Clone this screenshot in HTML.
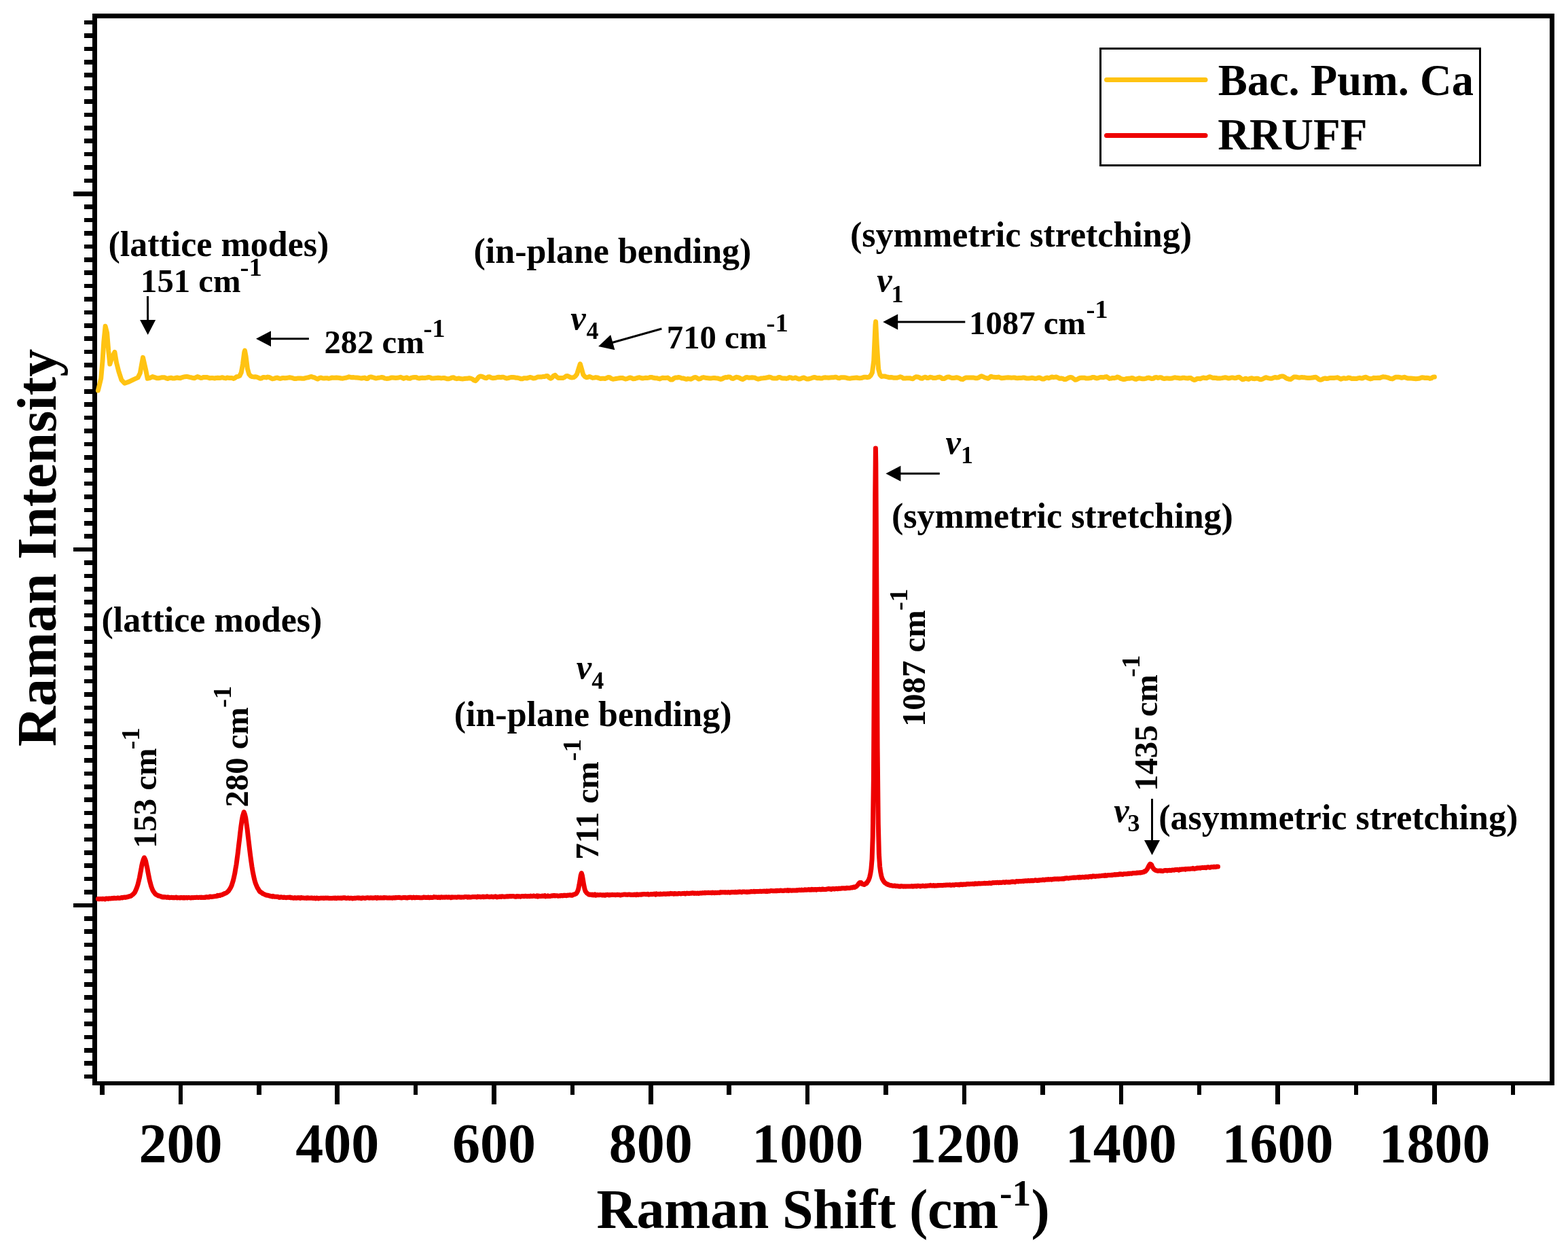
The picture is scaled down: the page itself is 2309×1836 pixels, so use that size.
<!DOCTYPE html>
<html><head><meta charset="utf-8"><title>Raman spectra</title>
<style>html,body{margin:0;padding:0;background:#fff;width:2309px;height:1836px;overflow:hidden}svg{display:block}</style></head>
<body><svg width="2309" height="1836" viewBox="0 0 2309 1836">
<rect width="2309" height="1836" fill="#fff"/>
<g fill="none" stroke="#000" stroke-linecap="butt" shape-rendering="crispEdges">
<path d="M139.5,20 V1598" stroke-width="7"/>
<path d="M2285.5,20 V1598" stroke-width="7"/>
<path d="M136,23.5 H2289" stroke-width="7"/>
<path d="M136,1595 H2289" stroke-width="6"/>
<path d="M124,33.10H137M124,52.50H137M124,71.90H137M124,91.30H137M124,110.70H137M124,130.10H137M124,149.50H137M124,168.90H137M124,188.30H137M124,207.70H137M124,227.10H137M124,246.50H137M124,265.90H137M108,285.30H137M124,304.70H137M124,324.10H137M124,343.50H137M124,362.90H137M124,382.30H137M124,401.70H137M124,421.10H137M124,440.50H137M124,459.90H137M124,479.30H137M124,498.70H137M124,518.10H137M124,537.50H137M124,556.90H137M124,576.30H137M124,595.70H137M124,615.10H137M124,634.50H137M124,653.90H137M124,673.30H137M124,692.70H137M124,712.10H137M124,731.50H137M124,750.90H137M124,770.30H137M124,789.70H137M108,809.10H137M124,828.50H137M124,847.90H137M124,867.30H137M124,886.70H137M124,906.10H137M124,925.50H137M124,944.90H137M124,964.30H137M124,983.70H137M124,1003.10H137M124,1022.50H137M124,1041.90H137M124,1061.30H137M124,1080.70H137M124,1100.10H137M124,1119.50H137M124,1138.90H137M124,1158.30H137M124,1177.70H137M124,1197.10H137M124,1216.50H137M124,1235.90H137M124,1255.30H137M124,1274.70H137M124,1294.10H137M124,1313.50H137M108,1332.90H137M124,1352.30H137M124,1371.70H137M124,1391.10H137M124,1410.50H137M124,1429.90H137M124,1449.30H137M124,1468.70H137M124,1488.10H137M124,1507.50H137M124,1526.90H137M124,1546.30H137M124,1565.70H137M124,1585.10H137" stroke-width="6.5"/>
<path d="M150.49,1597V1611.5M265.90,1597V1626M381.31,1597V1611.5M496.71,1597V1626M612.12,1597V1611.5M727.52,1597V1626M842.93,1597V1611.5M958.34,1597V1626M1073.74,1597V1611.5M1189.15,1597V1626M1304.55,1597V1611.5M1419.96,1597V1626M1535.37,1597V1611.5M1650.77,1597V1626M1766.18,1597V1611.5M1881.58,1597V1626M1996.99,1597V1611.5M2112.40,1597V1626M2227.80,1597V1611.5" stroke-width="6.5"/>
</g>
<g style="font-family:'Liberation Serif','Times New Roman',serif" fill="#000">
<text x="265.90" y="1711" font-size="82" font-weight="bold" text-anchor="middle">200</text>
<text x="496.71" y="1711" font-size="82" font-weight="bold" text-anchor="middle">400</text>
<text x="727.52" y="1711" font-size="82" font-weight="bold" text-anchor="middle">600</text>
<text x="958.34" y="1711" font-size="82" font-weight="bold" text-anchor="middle">800</text>
<text x="1189.15" y="1711" font-size="82" font-weight="bold" text-anchor="middle">1000</text>
<text x="1419.96" y="1711" font-size="82" font-weight="bold" text-anchor="middle">1200</text>
<text x="1650.77" y="1711" font-size="82" font-weight="bold" text-anchor="middle">1400</text>
<text x="1881.58" y="1711" font-size="82" font-weight="bold" text-anchor="middle">1600</text>
<text x="2112.40" y="1711" font-size="82" font-weight="bold" text-anchor="middle">1800</text>
<text x="878.62" y="1807.70" font-size="82" font-weight="bold" font-style="normal" textLength="591.7" lengthAdjust="spacing">Raman Shift (cm</text>
<text x="1472.00" y="1774.90" font-size="55.5" font-weight="bold" font-style="normal">-1</text>
<text x="1518.38" y="1807.70" font-size="82" font-weight="bold" font-style="normal">)</text>
<text transform="translate(82.00,1099.28) rotate(-90)" x="0" y="0" font-size="82" font-weight="bold">Raman Intensity</text>
<rect x="1620.5" y="71.5" width="559" height="172" fill="none" stroke="#000" stroke-width="3" shape-rendering="crispEdges"/>
<path d="M1629.5,117.5H1775" stroke="#FFC312" stroke-width="7" stroke-linecap="round"/>
<path d="M1629.5,199.4H1775" stroke="#EE0000" stroke-width="7" stroke-linecap="round"/>
<text x="1793.67" y="139.60" font-size="64.5" font-weight="bold" font-style="normal">Bac. Pum. Ca</text>
<text x="1793.17" y="220.30" font-size="65" font-weight="bold" font-style="normal">RRUFF</text>
<text x="159.45" y="376.80" font-size="52" font-weight="bold" font-style="normal">(lattice modes)</text>
<text x="207.12" y="430.20" font-size="48.7" font-weight="bold" font-style="normal">151 cm</text>
<text x="353.62" y="405.90" font-size="38.8" font-weight="bold" font-style="normal">-1</text>
<text x="477.40" y="520.10" font-size="48.7" font-weight="bold" font-style="normal">282 cm</text>
<text x="623.42" y="495.80" font-size="38.8" font-weight="bold" font-style="normal">-1</text>
<text x="697.55" y="386.80" font-size="52" font-weight="bold" font-style="normal">(in-plane bending)</text>
<text x="840.30" y="485.00" font-size="50.5" font-weight="bold" font-style="italic">v</text>
<text x="863.40" y="498.90" font-size="36" font-weight="bold" font-style="normal">4</text>
<text x="981.85" y="512.70" font-size="48.7" font-weight="bold" font-style="normal">710 cm</text>
<text x="1128.53" y="488.40" font-size="38.8" font-weight="bold" font-style="normal">-1</text>
<text x="1252.05" y="362.60" font-size="52" font-weight="bold" font-style="normal">(symmetric stretching)</text>
<text x="1291.30" y="429.40" font-size="50.5" font-weight="bold" font-style="italic">v</text>
<text x="1312.62" y="444.70" font-size="36" font-weight="bold" font-style="normal">1</text>
<text x="1427.12" y="492.00" font-size="48.7" font-weight="bold" font-style="normal">1087 cm</text>
<text x="1599.42" y="467.70" font-size="38.8" font-weight="bold" font-style="normal">-1</text>
<text x="149.45" y="929.80" font-size="52" font-weight="bold" font-style="normal">(lattice modes)</text>
<text x="1392.50" y="668.00" font-size="50.5" font-weight="bold" font-style="italic">v</text>
<text x="1415.03" y="682.00" font-size="36" font-weight="bold" font-style="normal">1</text>
<text x="1312.95" y="777.40" font-size="52" font-weight="bold" font-style="normal">(symmetric stretching)</text>
<text x="848.80" y="999.00" font-size="50.5" font-weight="bold" font-style="italic">v</text>
<text x="871.20" y="1013.70" font-size="36" font-weight="bold" font-style="normal">4</text>
<text x="668.65" y="1069.00" font-size="52" font-weight="bold" font-style="normal">(in-plane bending)</text>
<text x="1640.20" y="1209.90" font-size="50.5" font-weight="bold" font-style="italic">v</text>
<text x="1660.42" y="1224.30" font-size="36" font-weight="bold" font-style="normal">3</text>
<text x="1706.25" y="1220.70" font-size="52" font-weight="bold" font-style="normal">(asymmetric stretching)</text>
<text transform="translate(230.30,1248.88) rotate(-90)" x="0" y="0" font-size="48.7" font-weight="bold">153 cm</text>
<text transform="translate(204.70,1103.58) rotate(-90)" x="0" y="0" font-size="38.8" font-weight="bold">-1</text>
<text transform="translate(365.20,1188.50) rotate(-90)" x="0" y="0" font-size="48.7" font-weight="bold">280 cm</text>
<text transform="translate(339.60,1042.12) rotate(-90)" x="0" y="0" font-size="38.8" font-weight="bold">-1</text>
<text transform="translate(880.60,1265.85) rotate(-90)" x="0" y="0" font-size="48.7" font-weight="bold">711 cm</text>
<text transform="translate(855.00,1120.38) rotate(-90)" x="0" y="0" font-size="38.8" font-weight="bold">-1</text>
<text transform="translate(1362.00,1069.97) rotate(-90)" x="0" y="0" font-size="48.7" font-weight="bold">1087 cm</text>
<text transform="translate(1336.40,899.08) rotate(-90)" x="0" y="0" font-size="38.8" font-weight="bold">-1</text>
<text transform="translate(1704.00,1164.88) rotate(-90)" x="0" y="0" font-size="48.7" font-weight="bold">1435 cm</text>
<text transform="translate(1678.40,996.88) rotate(-90)" x="0" y="0" font-size="38.8" font-weight="bold">-1</text>
</g>
<g fill="#000" stroke="none">
<path d="M217.50,436.00L217.63,472.00" stroke="#000" stroke-width="3"/>
<path d="M217.70,493.00L206.12,471.04L229.12,470.96Z"/>
<path d="M454.90,498.70L398.00,498.70" stroke="#000" stroke-width="3"/>
<path d="M377.00,498.70L399.00,487.20L399.00,510.20Z"/>
<path d="M974.40,484.00L901.32,504.44" stroke="#000" stroke-width="3"/>
<path d="M881.10,510.10L899.19,493.10L905.38,515.25Z"/>
<path d="M1421.30,474.00L1321.20,474.00" stroke="#000" stroke-width="3"/>
<path d="M1300.20,474.00L1322.20,462.50L1322.20,485.50Z"/>
<path d="M1383.80,697.20L1325.40,697.20" stroke="#000" stroke-width="3"/>
<path d="M1304.40,697.20L1326.40,685.70L1326.40,708.70Z"/>
<path d="M1696.50,1176.10L1696.50,1238.00" stroke="#000" stroke-width="3"/>
<path d="M1696.50,1259.00L1685.00,1237.00L1708.00,1237.00Z"/>
</g>
<path d="M144.4,575.0 L148.7,557.2 L151.1,530.4 L152.8,503.6 L155.1,480.3 L157.6,490.0 L159.8,517.0 L161.8,536.1 L165.0,526.0 L168.9,518.3 L171.5,533.8 L174.9,547.2 L178.9,559.3 L183.6,564.3 L190.3,561.9 L197.0,558.6 L203.1,555.9 L206.4,549.2 L208.5,537.1 L210.5,526.4 L212.5,535.0 L214.5,543.8 L217.2,557.2 L220.5,556.6 L224.6,554.6 L228.6,555.9 L231.0,556.8 L233.3,556.8 L235.6,556.3 L237.9,555.8 L240.2,555.7 L242.5,555.8 L244.8,556.9 L247.1,557.5 L249.4,556.6 L251.7,556.2 L254.0,556.9 L256.3,557.1 L258.6,556.5 L260.9,556.0 L263.2,556.6 L265.5,556.7 L267.8,555.8 L270.1,555.2 L272.4,554.7 L274.7,554.4 L277.0,554.8 L279.3,555.4 L281.6,555.8 L283.9,556.5 L286.2,556.8 L288.5,555.7 L290.8,554.6 L293.1,555.3 L295.4,556.5 L297.7,556.2 L300.0,555.4 L302.3,555.4 L304.6,555.5 L306.9,556.1 L309.2,556.8 L311.5,556.4 L313.8,556.6 L316.1,557.0 L318.4,556.4 L320.7,556.3 L323.0,556.6 L325.3,556.2 L327.6,555.7 L329.9,556.6 L332.2,556.9 L334.5,556.0 L336.8,556.4 L339.1,556.4 L341.4,556.4 L343.7,557.4 L346.0,556.5 L348.3,554.7 L350.6,554.4 L352.9,553.4 L355.2,548.8 L357.5,536.3 L359.8,518.5 L360.5,516.2 L362.1,524.7 L364.4,542.7 L366.7,550.9 L369.0,553.5 L371.3,554.6 L373.6,554.9 L375.9,554.7 L378.2,555.1 L380.5,556.1 L382.8,557.2 L385.1,557.0 L387.4,555.6 L389.7,555.6 L392.0,555.9 L394.3,555.1 L396.6,555.4 L398.9,556.8 L401.2,557.7 L403.5,557.4 L405.8,556.5 L408.1,556.1 L410.4,556.8 L412.7,557.5 L415.0,556.8 L417.3,556.4 L419.6,556.7 L421.9,556.6 L424.2,556.1 L426.5,555.8 L428.8,556.1 L431.1,556.7 L433.4,557.6 L435.7,557.5 L438.0,557.1 L440.3,557.0 L442.6,557.0 L444.9,557.3 L447.2,557.3 L449.5,556.6 L451.8,556.1 L454.1,555.8 L456.4,554.9 L458.7,554.5 L461.0,555.4 L463.3,556.0 L465.6,557.3 L467.9,558.1 L470.2,556.7 L472.5,556.0 L474.8,556.8 L477.1,557.0 L479.4,556.7 L481.7,556.7 L484.0,557.3 L486.3,556.9 L488.6,556.1 L490.9,556.3 L493.2,556.3 L495.5,556.0 L497.8,556.2 L500.1,556.5 L502.4,557.1 L504.7,557.2 L507.0,556.6 L509.3,556.3 L511.6,555.7 L513.9,554.8 L516.2,555.3 L518.5,555.8 L520.8,555.6 L523.1,555.9 L525.4,556.0 L527.7,556.3 L530.0,556.6 L532.3,557.0 L534.6,556.5 L536.9,556.1 L539.2,557.4 L541.5,557.4 L543.8,555.4 L546.1,554.9 L548.4,555.5 L550.7,556.2 L553.0,556.9 L555.3,556.7 L557.6,556.2 L559.9,555.9 L562.2,555.5 L564.5,556.0 L566.8,557.1 L569.1,557.4 L571.4,557.3 L573.7,556.8 L576.0,556.1 L578.3,556.0 L580.6,556.2 L582.9,556.4 L585.2,556.3 L587.5,555.8 L589.8,555.3 L592.1,556.2 L594.4,557.4 L596.7,556.4 L599.0,555.8 L601.3,557.1 L603.6,557.3 L605.9,556.1 L608.2,555.8 L610.5,555.5 L612.8,555.5 L615.1,556.6 L617.4,557.0 L619.7,556.5 L622.0,556.3 L624.3,556.6 L626.6,556.4 L628.9,556.0 L631.2,555.4 L633.5,555.9 L635.8,557.0 L638.1,556.9 L640.4,556.7 L642.7,556.6 L645.0,556.2 L647.3,556.4 L649.6,556.9 L651.9,556.6 L654.2,556.5 L656.5,557.1 L658.8,557.8 L661.1,557.7 L663.4,557.0 L665.7,555.9 L668.0,555.8 L670.3,557.2 L672.6,557.7 L674.9,557.1 L677.2,557.3 L679.5,557.8 L681.8,557.9 L684.1,557.5 L686.4,557.2 L688.7,557.2 L691.0,556.7 L693.3,557.1 L695.6,558.1 L697.9,559.9 L700.2,560.6 L702.5,558.4 L704.8,555.3 L707.1,553.9 L709.4,554.3 L711.7,555.1 L714.0,556.3 L716.3,556.7 L718.6,555.0 L720.9,554.7 L723.2,556.1 L725.5,556.7 L727.8,556.5 L730.1,556.3 L732.4,555.5 L734.7,555.2 L737.0,555.7 L739.3,555.3 L741.6,555.3 L743.9,556.4 L746.2,557.0 L748.5,556.6 L750.8,555.9 L753.1,555.5 L755.4,555.4 L757.7,555.8 L760.0,556.2 L762.3,556.3 L764.6,556.8 L766.9,557.8 L769.2,557.8 L771.5,556.7 L773.8,556.8 L776.1,556.9 L778.4,556.1 L780.7,555.5 L783.0,556.1 L785.3,557.0 L787.6,556.8 L789.9,555.9 L792.2,554.9 L794.5,555.0 L796.8,555.1 L799.1,554.6 L801.4,554.6 L803.7,553.8 L806.0,553.4 L808.3,555.6 L810.6,557.3 L812.9,556.1 L815.2,553.2 L817.5,552.4 L819.8,554.8 L822.1,556.5 L824.4,556.6 L826.7,556.5 L829.0,556.4 L831.3,555.5 L833.6,553.8 L835.9,553.5 L838.2,554.8 L840.5,555.7 L842.8,555.9 L845.1,555.5 L847.4,553.8 L849.7,550.6 L852.0,543.0 L854.3,535.9 L854.5,536.2 L856.6,543.4 L858.9,551.8 L861.2,554.5 L863.5,555.8 L865.8,555.4 L868.1,554.4 L870.4,555.4 L872.7,556.4 L875.0,556.1 L877.3,555.6 L879.6,555.9 L881.9,556.7 L884.2,557.5 L886.5,557.2 L888.8,557.3 L891.1,557.5 L893.4,556.6 L895.7,555.5 L898.0,555.7 L900.3,557.5 L902.6,558.2 L904.9,557.9 L907.2,557.5 L909.5,557.1 L911.8,556.8 L914.1,556.5 L916.4,556.4 L918.7,557.2 L921.0,558.0 L923.3,557.6 L925.6,556.6 L927.9,556.0 L930.2,556.6 L932.5,557.8 L934.8,557.6 L937.1,556.8 L939.4,556.1 L941.7,555.7 L944.0,556.5 L946.3,557.1 L948.6,556.6 L950.9,556.3 L953.2,556.5 L955.5,556.1 L957.8,555.5 L960.1,555.6 L962.4,556.3 L964.7,556.7 L967.0,556.7 L969.3,557.4 L971.6,557.9 L973.9,556.8 L976.2,556.2 L978.5,556.6 L980.8,556.4 L983.1,556.1 L985.4,557.5 L987.7,559.1 L990.0,559.0 L992.3,557.0 L994.6,556.1 L996.9,556.1 L999.2,555.5 L1001.5,555.9 L1003.8,556.9 L1006.1,556.9 L1008.4,557.7 L1010.7,558.3 L1013.0,557.6 L1015.3,557.9 L1017.6,558.2 L1019.9,557.0 L1022.2,555.7 L1024.5,555.5 L1026.8,556.8 L1029.1,558.1 L1031.4,557.6 L1033.7,556.1 L1036.0,555.6 L1038.3,556.1 L1040.6,556.6 L1042.9,556.7 L1045.2,556.9 L1047.5,556.9 L1049.8,556.6 L1052.1,556.6 L1054.4,556.8 L1056.7,556.9 L1059.0,557.7 L1061.3,558.4 L1063.6,557.8 L1065.9,556.3 L1068.2,555.6 L1070.5,555.7 L1072.8,554.9 L1075.1,555.3 L1077.4,557.1 L1079.7,557.5 L1082.0,556.2 L1084.3,555.3 L1086.6,555.6 L1088.9,556.3 L1091.2,557.7 L1093.5,558.6 L1095.8,557.4 L1098.1,555.8 L1100.4,555.5 L1102.7,556.2 L1105.0,556.1 L1107.3,555.8 L1109.6,555.9 L1111.9,556.3 L1114.2,557.5 L1116.5,558.2 L1118.8,557.7 L1121.1,556.9 L1123.4,556.8 L1125.7,556.6 L1128.0,556.2 L1130.3,555.8 L1132.6,555.1 L1134.9,555.5 L1137.2,556.7 L1139.5,556.9 L1141.8,557.1 L1144.1,556.9 L1146.4,555.5 L1148.7,555.6 L1151.0,556.7 L1153.3,556.9 L1155.6,556.9 L1157.9,557.4 L1160.2,556.8 L1162.5,555.6 L1164.8,555.9 L1167.1,557.1 L1169.4,556.6 L1171.7,556.0 L1174.0,557.2 L1176.3,558.1 L1178.6,557.7 L1180.9,556.8 L1183.2,555.9 L1185.5,556.7 L1187.8,558.0 L1190.1,558.0 L1192.4,557.5 L1194.7,556.8 L1197.0,556.0 L1199.3,555.4 L1201.6,556.1 L1203.9,556.8 L1206.2,556.5 L1208.5,557.1 L1210.8,556.9 L1213.1,555.9 L1215.4,555.8 L1217.7,556.1 L1220.0,556.3 L1222.3,556.0 L1224.6,555.8 L1226.9,555.8 L1229.2,555.3 L1231.5,555.3 L1233.8,556.5 L1236.1,556.7 L1238.4,555.8 L1240.7,555.8 L1243.0,555.8 L1245.3,556.0 L1247.6,556.7 L1249.9,557.0 L1252.2,557.2 L1254.5,556.7 L1256.8,556.4 L1259.1,556.2 L1261.4,556.0 L1263.7,556.5 L1266.0,556.7 L1268.3,556.6 L1270.6,555.9 L1272.9,555.2 L1275.2,555.3 L1277.5,555.7 L1279.8,555.1 L1282.1,553.0 L1284.4,548.9 L1286.7,531.1 L1289.0,478.4 L1289.6,473.6 L1291.3,507.7 L1293.6,543.3 L1295.9,551.9 L1298.2,554.4 L1300.5,554.0 L1302.8,554.0 L1305.1,554.6 L1307.4,555.1 L1309.7,555.8 L1312.0,555.6 L1314.3,555.8 L1316.6,556.3 L1318.9,556.3 L1321.2,556.2 L1323.5,555.5 L1325.8,554.7 L1328.1,555.5 L1330.4,557.1 L1332.7,557.1 L1335.0,556.7 L1337.3,556.7 L1339.6,556.7 L1341.9,557.4 L1344.2,557.7 L1346.5,556.0 L1348.8,554.8 L1351.1,554.9 L1353.4,555.6 L1355.7,557.0 L1358.0,557.2 L1360.3,555.8 L1362.6,555.2 L1364.9,556.4 L1367.2,556.5 L1369.5,555.3 L1371.8,555.6 L1374.1,556.5 L1376.4,556.6 L1378.7,556.2 L1381.0,555.5 L1383.3,555.1 L1385.6,555.9 L1387.9,557.6 L1390.2,557.6 L1392.5,556.4 L1394.8,555.2 L1397.1,554.9 L1399.4,555.7 L1401.7,556.5 L1404.0,556.6 L1406.3,556.2 L1408.6,555.8 L1410.9,556.2 L1413.2,557.1 L1415.5,558.3 L1417.8,558.4 L1420.1,557.0 L1422.4,556.1 L1424.7,556.1 L1427.0,556.0 L1429.3,555.9 L1431.6,556.0 L1433.9,556.1 L1436.2,556.7 L1438.5,556.8 L1440.8,556.2 L1443.1,554.8 L1445.4,553.8 L1447.7,554.7 L1450.0,555.8 L1452.3,556.5 L1454.6,557.3 L1456.9,556.1 L1459.2,554.2 L1461.5,554.8 L1463.8,555.3 L1466.1,555.6 L1468.4,555.5 L1470.7,555.1 L1473.0,556.1 L1475.3,556.8 L1477.6,556.5 L1479.9,556.2 L1482.2,555.9 L1484.5,555.8 L1486.8,555.9 L1489.1,556.2 L1491.4,556.1 L1493.7,555.9 L1496.0,556.5 L1498.3,556.8 L1500.6,556.5 L1502.9,556.5 L1505.2,556.3 L1507.5,555.9 L1509.8,556.5 L1512.1,557.1 L1514.4,557.1 L1516.7,556.8 L1519.0,556.3 L1521.3,556.5 L1523.6,557.2 L1525.9,557.3 L1528.2,556.5 L1530.5,555.9 L1532.8,557.0 L1535.1,558.1 L1537.4,557.9 L1539.7,556.7 L1542.0,556.0 L1544.3,556.8 L1546.6,556.0 L1548.9,555.0 L1551.2,555.5 L1553.5,555.3 L1555.8,555.0 L1558.1,556.2 L1560.4,557.3 L1562.7,557.0 L1565.0,557.4 L1567.3,558.6 L1569.6,558.4 L1571.9,557.1 L1574.2,556.0 L1576.5,555.5 L1578.8,556.0 L1581.1,557.7 L1583.4,559.3 L1585.7,558.8 L1588.0,557.5 L1590.3,556.4 L1592.6,556.2 L1594.9,556.2 L1597.2,556.3 L1599.5,557.1 L1601.8,557.1 L1604.1,556.7 L1606.4,556.5 L1608.7,555.5 L1611.0,555.4 L1613.3,556.5 L1615.6,557.0 L1617.9,556.3 L1620.2,555.5 L1622.5,555.6 L1624.8,555.8 L1627.1,555.0 L1629.4,554.6 L1631.7,556.0 L1634.0,557.4 L1636.3,557.1 L1638.6,556.4 L1640.9,556.7 L1643.2,556.2 L1645.5,554.9 L1647.8,555.8 L1650.1,557.3 L1652.4,558.0 L1654.7,558.6 L1657.0,558.2 L1659.3,557.4 L1661.6,557.3 L1663.9,557.2 L1666.2,556.6 L1668.5,556.8 L1670.8,558.0 L1673.1,558.4 L1675.4,557.3 L1677.7,556.7 L1680.0,557.3 L1682.3,557.7 L1684.6,557.7 L1686.9,557.4 L1689.2,556.5 L1691.5,556.1 L1693.8,556.8 L1696.1,557.6 L1698.4,557.2 L1700.7,555.7 L1703.0,555.6 L1705.3,556.4 L1707.6,555.8 L1709.9,555.7 L1712.2,557.1 L1714.5,557.6 L1716.8,557.1 L1719.1,556.9 L1721.4,557.2 L1723.7,557.3 L1726.0,557.1 L1728.3,556.1 L1730.6,555.8 L1732.9,556.3 L1735.2,556.5 L1737.5,557.0 L1739.8,556.8 L1742.1,556.2 L1744.4,556.3 L1746.7,556.8 L1749.0,557.0 L1751.3,556.4 L1753.6,556.6 L1755.9,558.2 L1758.2,559.5 L1760.5,559.0 L1762.8,557.5 L1765.1,557.4 L1767.4,557.8 L1769.7,556.8 L1772.0,556.0 L1774.3,556.6 L1776.6,556.8 L1778.9,555.7 L1781.2,554.7 L1783.5,555.3 L1785.8,556.4 L1788.1,556.3 L1790.4,556.4 L1792.7,557.0 L1795.0,557.1 L1797.3,556.9 L1799.6,556.6 L1801.9,556.1 L1804.2,555.7 L1806.5,556.2 L1808.8,557.1 L1811.1,556.8 L1813.4,556.0 L1815.7,556.1 L1818.0,556.7 L1820.3,556.5 L1822.6,555.4 L1824.9,555.2 L1827.2,557.0 L1829.5,558.7 L1831.8,558.3 L1834.1,557.2 L1836.4,557.9 L1838.7,558.4 L1841.0,557.1 L1843.3,556.8 L1845.6,557.6 L1847.9,557.7 L1850.2,557.2 L1852.5,557.3 L1854.8,558.5 L1857.1,558.8 L1859.4,558.0 L1861.7,556.7 L1864.0,555.7 L1866.3,556.4 L1868.6,556.9 L1870.9,557.2 L1873.2,557.2 L1875.5,556.1 L1877.8,555.5 L1880.1,556.0 L1882.4,555.8 L1884.7,554.7 L1887.0,554.0 L1889.3,554.1 L1891.6,555.0 L1893.9,556.8 L1896.2,557.7 L1898.5,558.3 L1900.8,558.5 L1903.1,556.8 L1905.4,555.1 L1907.7,555.0 L1910.0,555.3 L1912.3,555.9 L1914.6,555.9 L1916.9,555.4 L1919.2,555.7 L1921.5,555.8 L1923.8,556.3 L1926.1,556.6 L1928.4,556.4 L1930.7,556.3 L1933.0,556.1 L1935.3,555.5 L1937.6,555.3 L1939.9,556.7 L1942.2,558.7 L1944.5,559.3 L1946.8,558.6 L1949.1,557.4 L1951.4,557.0 L1953.7,557.5 L1956.0,557.2 L1958.3,556.5 L1960.6,556.5 L1962.9,556.5 L1965.2,556.4 L1967.5,556.1 L1969.8,555.8 L1972.1,556.9 L1974.4,558.2 L1976.7,557.4 L1979.0,556.7 L1981.3,557.3 L1983.6,557.0 L1985.9,556.1 L1988.2,556.5 L1990.5,557.4 L1992.8,557.3 L1995.1,557.4 L1997.4,557.6 L1999.7,556.8 L2002.0,556.3 L2004.3,556.9 L2006.6,556.9 L2008.9,555.6 L2011.2,555.3 L2013.5,556.3 L2015.8,557.2 L2018.1,557.9 L2020.4,557.4 L2022.7,556.3 L2025.0,556.6 L2027.3,556.5 L2029.6,556.3 L2031.9,556.5 L2034.2,555.5 L2036.5,554.7 L2038.8,555.1 L2041.1,555.3 L2043.4,555.8 L2045.7,556.8 L2048.0,557.6 L2050.3,557.9 L2052.6,556.6 L2054.9,555.3 L2057.2,555.3 L2059.5,555.3 L2061.8,555.6 L2064.1,556.3 L2066.4,555.7 L2068.7,555.3 L2071.0,556.4 L2073.3,557.0 L2075.6,557.0 L2077.9,557.1 L2080.2,557.2 L2082.5,557.4 L2084.8,557.8 L2087.1,557.6 L2089.4,557.3 L2091.7,556.6 L2094.0,555.7 L2096.3,556.0 L2098.6,556.5 L2100.9,556.3 L2103.2,556.4 L2105.5,557.4 L2107.8,556.9 L2110.1,555.2 L2112.4,555.0" fill="none" stroke="#FFC312" stroke-width="7" stroke-linejoin="round" stroke-linecap="round"/>
<path d="M144.4,1323.6 L145.6,1323.7 L146.7,1323.5 L147.9,1323.6 L149.0,1323.4 L150.2,1323.7 L151.3,1323.3 L152.5,1323.4 L153.6,1323.6 L154.8,1324.0 L155.9,1323.0 L157.1,1323.1 L158.2,1323.0 L159.4,1323.4 L160.5,1322.8 L161.7,1322.9 L162.8,1323.0 L164.0,1322.7 L165.1,1322.6 L166.3,1322.7 L167.4,1322.2 L168.6,1322.3 L169.7,1322.5 L170.9,1322.6 L172.0,1322.4 L173.2,1321.9 L174.3,1322.2 L175.5,1322.4 L176.6,1322.2 L177.8,1322.0 L178.9,1321.6 L180.1,1321.9 L181.2,1321.5 L182.4,1321.2 L183.5,1321.1 L184.7,1321.4 L185.8,1320.9 L187.0,1320.9 L188.1,1320.3 L189.3,1320.3 L190.4,1319.6 L191.6,1319.3 L192.7,1319.4 L193.9,1318.4 L195.0,1317.3 L196.2,1316.5 L197.3,1315.3 L198.5,1313.9 L199.6,1311.5 L200.8,1308.6 L201.9,1305.8 L203.1,1302.0 L204.2,1297.5 L205.4,1292.5 L206.5,1286.5 L207.7,1280.5 L208.8,1274.0 L210.0,1269.2 L211.1,1265.7 L212.4,1262.8 L213.4,1264.6 L214.6,1267.8 L215.7,1273.1 L216.9,1278.3 L218.0,1284.6 L219.2,1290.7 L220.3,1296.1 L221.5,1300.5 L222.6,1304.8 L223.8,1307.9 L224.9,1310.7 L226.1,1312.8 L227.2,1314.2 L228.4,1315.8 L229.5,1317.0 L230.7,1317.3 L231.8,1318.1 L233.0,1318.9 L234.1,1318.8 L235.3,1319.5 L236.4,1319.5 L237.6,1320.3 L238.7,1320.8 L239.9,1320.9 L241.0,1320.5 L242.2,1320.9 L243.3,1320.8 L244.5,1320.9 L245.6,1321.4 L246.8,1320.8 L247.9,1321.4 L249.1,1321.2 L250.2,1321.7 L251.4,1321.4 L252.5,1321.3 L253.7,1321.5 L254.8,1321.7 L256.0,1321.6 L257.1,1321.7 L258.3,1321.5 L259.4,1321.1 L260.6,1321.9 L261.7,1321.8 L262.9,1321.7 L264.0,1321.7 L265.2,1322.0 L266.3,1321.6 L267.5,1321.5 L268.6,1321.7 L269.8,1322.0 L270.9,1321.4 L272.1,1322.0 L273.2,1321.6 L274.4,1321.4 L275.5,1322.0 L276.7,1321.7 L277.8,1321.4 L279.0,1321.6 L280.1,1321.9 L281.3,1321.9 L282.4,1321.5 L283.6,1321.7 L284.7,1321.8 L285.9,1321.4 L287.0,1321.6 L288.2,1321.5 L289.3,1321.3 L290.5,1321.3 L291.6,1321.4 L292.8,1321.4 L293.9,1321.2 L295.1,1321.2 L296.2,1321.5 L297.4,1321.2 L298.5,1321.4 L299.7,1321.4 L300.8,1321.2 L302.0,1321.5 L303.1,1320.7 L304.3,1321.0 L305.4,1320.7 L306.6,1321.1 L307.7,1321.0 L308.9,1320.0 L310.0,1320.1 L311.2,1320.4 L312.3,1320.3 L313.5,1320.2 L314.6,1319.9 L315.8,1319.8 L316.9,1319.7 L318.1,1319.4 L319.2,1319.5 L320.4,1318.4 L321.5,1318.9 L322.7,1318.3 L323.8,1318.5 L325.0,1317.9 L326.1,1317.4 L327.3,1317.4 L328.4,1316.6 L329.6,1316.2 L330.7,1315.5 L331.9,1315.3 L333.0,1314.7 L334.2,1314.0 L335.3,1312.8 L336.5,1311.9 L337.6,1310.2 L338.8,1308.4 L339.9,1306.4 L341.1,1303.8 L342.2,1300.2 L343.4,1296.4 L344.5,1291.7 L345.7,1286.3 L346.8,1279.7 L348.0,1273.0 L349.1,1264.5 L350.3,1255.8 L351.4,1245.9 L352.6,1236.2 L353.7,1226.3 L354.9,1216.6 L356.0,1208.9 L357.2,1202.0 L358.3,1198.4 L359.2,1195.5 L360.6,1199.2 L361.8,1204.4 L362.9,1211.9 L364.1,1220.7 L365.2,1230.5 L366.4,1240.4 L367.5,1249.9 L368.7,1259.6 L369.8,1267.7 L371.0,1276.1 L372.1,1282.7 L373.3,1288.7 L374.4,1293.9 L375.6,1298.4 L376.7,1301.5 L377.9,1304.4 L379.0,1307.0 L380.2,1308.8 L381.3,1310.7 L382.5,1312.7 L383.6,1313.1 L384.8,1314.4 L385.9,1314.7 L387.1,1315.8 L388.2,1316.2 L389.4,1316.7 L390.5,1317.3 L391.7,1318.0 L392.8,1318.0 L394.0,1318.3 L395.1,1318.3 L396.3,1318.9 L397.4,1319.0 L398.6,1319.5 L399.7,1319.4 L400.9,1320.1 L402.0,1319.3 L403.2,1319.9 L404.3,1320.3 L405.5,1320.2 L406.6,1320.2 L407.8,1320.4 L408.9,1320.3 L410.1,1320.8 L411.2,1321.4 L412.4,1321.2 L413.5,1320.7 L414.7,1320.9 L415.8,1321.1 L417.0,1321.5 L418.1,1321.1 L419.3,1321.2 L420.4,1321.6 L421.6,1321.7 L422.7,1321.4 L423.9,1321.3 L425.0,1321.2 L426.2,1321.5 L427.3,1321.1 L428.5,1321.9 L429.6,1321.6 L430.8,1321.9 L431.9,1322.3 L433.1,1322.2 L434.2,1321.6 L435.4,1322.2 L436.5,1322.3 L437.7,1321.8 L438.8,1321.8 L440.0,1322.0 L441.1,1321.7 L442.3,1322.4 L443.4,1321.5 L444.6,1321.8 L445.7,1322.1 L446.9,1322.1 L448.0,1322.2 L449.2,1322.3 L450.3,1322.1 L451.5,1322.5 L452.6,1321.7 L453.8,1322.2 L454.9,1322.1 L456.1,1322.3 L457.2,1322.3 L458.4,1322.0 L459.5,1322.1 L460.7,1322.5 L461.8,1322.4 L463.0,1322.1 L464.1,1322.8 L465.3,1322.9 L466.4,1322.0 L467.6,1322.4 L468.7,1323.0 L469.9,1322.5 L471.0,1322.4 L472.2,1322.3 L473.3,1322.2 L474.5,1322.3 L475.6,1322.2 L476.8,1322.5 L477.9,1322.3 L479.1,1322.2 L480.2,1322.1 L481.4,1322.3 L482.5,1322.1 L483.7,1322.3 L484.8,1322.6 L486.0,1322.4 L487.1,1322.5 L488.3,1322.4 L489.4,1322.4 L490.6,1322.3 L491.7,1322.3 L492.9,1322.5 L494.0,1322.1 L495.2,1322.7 L496.3,1322.3 L497.5,1322.1 L498.6,1322.2 L499.8,1322.2 L500.9,1322.4 L502.1,1322.1 L503.2,1322.6 L504.4,1322.1 L505.5,1321.7 L506.7,1322.1 L507.8,1321.8 L509.0,1322.3 L510.1,1322.6 L511.3,1322.4 L512.4,1321.9 L513.6,1322.1 L514.7,1322.7 L515.9,1322.3 L517.0,1322.3 L518.2,1322.5 L519.3,1322.9 L520.5,1322.6 L521.6,1322.3 L522.8,1322.3 L523.9,1322.4 L525.1,1322.1 L526.2,1321.9 L527.4,1322.2 L528.5,1322.0 L529.7,1322.2 L530.8,1322.2 L532.0,1322.8 L533.1,1322.0 L534.3,1322.1 L535.4,1322.1 L536.6,1322.3 L537.7,1322.4 L538.9,1322.0 L540.0,1321.9 L541.2,1321.7 L542.3,1321.9 L543.5,1322.2 L544.6,1322.1 L545.8,1321.8 L546.9,1322.0 L548.1,1322.1 L549.2,1322.2 L550.4,1321.9 L551.5,1322.0 L552.7,1321.6 L553.8,1321.7 L555.0,1322.4 L556.1,1321.5 L557.3,1321.9 L558.4,1322.0 L559.6,1321.9 L560.7,1321.8 L561.9,1321.9 L563.0,1321.9 L564.2,1321.9 L565.3,1321.5 L566.5,1321.9 L567.6,1321.7 L568.8,1321.8 L569.9,1321.9 L571.1,1322.0 L572.2,1322.1 L573.4,1321.7 L574.5,1322.1 L575.7,1322.1 L576.8,1322.1 L578.0,1322.2 L579.1,1321.8 L580.3,1321.7 L581.4,1322.0 L582.6,1321.4 L583.7,1321.8 L584.9,1321.6 L586.0,1321.6 L587.2,1321.3 L588.3,1321.5 L589.5,1321.7 L590.6,1321.9 L591.8,1321.9 L592.9,1321.7 L594.1,1321.6 L595.2,1321.4 L596.4,1321.7 L597.5,1321.6 L598.7,1321.8 L599.8,1322.1 L601.0,1321.6 L602.1,1321.2 L603.3,1321.4 L604.4,1321.2 L605.6,1321.3 L606.7,1321.9 L607.9,1321.6 L609.0,1321.1 L610.2,1321.7 L611.3,1321.8 L612.5,1321.4 L613.6,1321.3 L614.8,1321.4 L615.9,1321.5 L617.1,1321.6 L618.2,1321.7 L619.4,1321.7 L620.5,1321.7 L621.7,1321.7 L622.8,1321.6 L624.0,1321.0 L625.1,1321.3 L626.3,1321.4 L627.4,1321.2 L628.6,1321.6 L629.7,1321.2 L630.9,1321.1 L632.0,1321.7 L633.2,1321.5 L634.3,1321.3 L635.5,1321.5 L636.6,1321.5 L637.8,1321.3 L638.9,1320.6 L640.1,1321.0 L641.2,1321.1 L642.4,1320.9 L643.5,1321.2 L644.7,1321.5 L645.8,1321.0 L647.0,1320.9 L648.1,1321.6 L649.3,1321.0 L650.4,1320.8 L651.6,1321.2 L652.7,1321.2 L653.9,1320.9 L655.0,1321.3 L656.2,1320.9 L657.3,1320.8 L658.5,1321.1 L659.6,1321.2 L660.8,1320.8 L661.9,1321.1 L663.1,1321.0 L664.2,1321.7 L665.4,1320.8 L666.5,1321.3 L667.7,1320.9 L668.8,1320.9 L670.0,1321.1 L671.1,1321.1 L672.3,1321.2 L673.4,1321.0 L674.6,1320.7 L675.7,1320.7 L676.9,1321.0 L678.0,1321.0 L679.2,1321.2 L680.3,1320.9 L681.5,1321.0 L682.6,1321.1 L683.8,1320.8 L684.9,1320.4 L686.1,1320.4 L687.2,1320.4 L688.4,1321.1 L689.5,1320.5 L690.7,1321.0 L691.8,1320.8 L693.0,1321.1 L694.1,1320.9 L695.3,1320.6 L696.4,1320.6 L697.6,1320.6 L698.7,1320.6 L699.9,1320.4 L701.0,1320.6 L702.2,1321.0 L703.3,1320.1 L704.5,1320.6 L705.6,1320.3 L706.8,1320.5 L707.9,1320.7 L709.1,1320.5 L710.2,1320.6 L711.4,1320.0 L712.5,1320.7 L713.7,1320.3 L714.8,1320.6 L716.0,1320.4 L717.1,1319.7 L718.3,1320.2 L719.4,1320.4 L720.6,1320.7 L721.7,1320.4 L722.9,1320.4 L724.0,1319.9 L725.2,1320.6 L726.3,1320.7 L727.5,1320.3 L728.6,1320.2 L729.8,1319.8 L730.9,1320.4 L732.1,1320.9 L733.2,1320.4 L734.4,1320.5 L735.5,1320.3 L736.7,1319.9 L737.8,1320.5 L739.0,1319.8 L740.1,1320.0 L741.3,1320.1 L742.4,1320.3 L743.6,1320.2 L744.7,1320.1 L745.9,1319.8 L747.0,1319.7 L748.2,1320.0 L749.3,1319.8 L750.5,1319.6 L751.6,1319.6 L752.8,1319.8 L753.9,1319.5 L755.1,1319.6 L756.2,1319.5 L757.4,1319.9 L758.5,1320.0 L759.7,1320.3 L760.8,1319.5 L762.0,1319.6 L763.1,1320.0 L764.3,1319.7 L765.4,1319.7 L766.6,1320.2 L767.7,1319.6 L768.9,1319.4 L770.0,1319.4 L771.2,1319.8 L772.3,1319.7 L773.5,1319.3 L774.6,1319.4 L775.8,1319.8 L776.9,1319.8 L778.1,1319.4 L779.2,1319.7 L780.4,1319.7 L781.5,1319.1 L782.7,1319.4 L783.8,1319.6 L785.0,1319.3 L786.1,1318.9 L787.3,1319.4 L788.4,1319.6 L789.6,1319.8 L790.7,1318.9 L791.9,1320.0 L793.0,1319.1 L794.2,1319.6 L795.3,1319.6 L796.5,1319.6 L797.6,1319.3 L798.8,1319.0 L799.9,1319.4 L801.1,1319.1 L802.2,1318.6 L803.4,1319.9 L804.5,1319.4 L805.7,1319.6 L806.8,1318.9 L808.0,1319.5 L809.1,1319.5 L810.3,1319.5 L811.4,1319.1 L812.6,1318.7 L813.7,1319.0 L814.9,1318.4 L816.0,1318.5 L817.2,1319.0 L818.3,1318.7 L819.5,1318.8 L820.6,1318.8 L821.8,1319.3 L822.9,1319.1 L824.1,1318.8 L825.2,1319.0 L826.4,1318.5 L827.5,1318.6 L828.7,1318.9 L829.8,1318.3 L831.0,1318.5 L832.1,1318.2 L833.3,1318.5 L834.4,1318.8 L835.6,1318.1 L836.7,1318.3 L837.9,1317.9 L839.0,1317.8 L840.2,1317.7 L841.3,1318.2 L842.5,1318.3 L843.6,1317.6 L844.8,1317.0 L845.9,1317.0 L847.1,1316.3 L848.2,1315.9 L849.4,1314.5 L850.5,1312.4 L851.7,1309.0 L852.8,1303.5 L854.0,1296.7 L855.1,1289.4 L856.3,1285.5 L857.4,1289.0 L858.6,1296.0 L859.7,1302.7 L860.9,1308.4 L862.0,1312.1 L863.2,1313.7 L864.3,1315.1 L865.5,1315.8 L866.6,1316.7 L867.8,1317.2 L868.9,1317.2 L870.1,1317.1 L871.2,1317.7 L872.4,1317.1 L873.5,1317.9 L874.7,1317.4 L875.8,1316.9 L877.0,1318.3 L878.1,1318.1 L879.3,1317.4 L880.4,1317.8 L881.6,1317.7 L882.7,1317.8 L883.9,1317.4 L885.0,1317.6 L886.2,1317.9 L887.3,1317.8 L888.5,1318.0 L889.6,1317.7 L890.8,1318.3 L891.9,1317.5 L893.1,1317.8 L894.2,1317.2 L895.4,1317.4 L896.5,1318.0 L897.7,1317.4 L898.8,1317.8 L900.0,1317.6 L901.1,1317.3 L902.3,1317.5 L903.4,1317.4 L904.6,1317.4 L905.7,1317.7 L906.9,1317.7 L908.0,1317.4 L909.2,1317.3 L910.3,1317.5 L911.5,1317.4 L912.6,1317.7 L913.8,1318.1 L914.9,1317.6 L916.1,1317.4 L917.2,1317.3 L918.4,1317.1 L919.5,1317.1 L920.7,1317.0 L921.8,1317.2 L923.0,1317.2 L924.1,1317.4 L925.3,1317.1 L926.4,1317.1 L927.6,1316.9 L928.7,1317.6 L929.9,1317.3 L931.0,1317.6 L932.2,1317.3 L933.3,1317.4 L934.5,1317.0 L935.6,1317.2 L936.8,1317.7 L937.9,1316.7 L939.1,1317.3 L940.2,1317.4 L941.4,1317.0 L942.5,1317.1 L943.7,1317.2 L944.8,1316.7 L946.0,1316.9 L947.1,1316.6 L948.3,1316.6 L949.4,1316.6 L950.6,1316.7 L951.7,1316.8 L952.9,1316.8 L954.0,1316.3 L955.2,1317.2 L956.3,1316.9 L957.5,1316.8 L958.6,1316.5 L959.8,1316.5 L960.9,1316.7 L962.1,1316.6 L963.2,1316.0 L964.4,1316.6 L965.5,1317.2 L966.7,1315.9 L967.8,1316.6 L969.0,1316.5 L970.1,1316.3 L971.3,1316.7 L972.4,1316.0 L973.6,1316.3 L974.7,1316.6 L975.9,1316.2 L977.0,1316.1 L978.2,1316.2 L979.3,1316.0 L980.5,1316.5 L981.6,1315.9 L982.8,1316.3 L983.9,1315.7 L985.1,1316.2 L986.2,1316.0 L987.4,1315.3 L988.5,1315.9 L989.7,1315.6 L990.8,1315.8 L992.0,1316.3 L993.1,1315.5 L994.3,1315.5 L995.4,1316.1 L996.6,1315.8 L997.7,1316.1 L998.9,1315.8 L1000.0,1315.4 L1001.2,1315.6 L1002.3,1315.9 L1003.5,1315.8 L1004.6,1315.6 L1005.8,1315.6 L1006.9,1315.5 L1008.1,1315.3 L1009.2,1316.0 L1010.4,1315.4 L1011.5,1315.1 L1012.7,1315.3 L1013.8,1315.5 L1015.0,1315.5 L1016.1,1315.3 L1017.3,1315.1 L1018.4,1315.2 L1019.6,1314.8 L1020.7,1314.8 L1021.9,1315.4 L1023.0,1315.0 L1024.2,1315.2 L1025.3,1315.4 L1026.5,1315.2 L1027.6,1315.0 L1028.8,1315.5 L1029.9,1315.1 L1031.1,1314.8 L1032.2,1315.1 L1033.4,1315.0 L1034.5,1314.6 L1035.7,1314.8 L1036.8,1314.7 L1038.0,1314.2 L1039.1,1314.7 L1040.3,1314.6 L1041.4,1314.6 L1042.6,1314.2 L1043.7,1314.5 L1044.9,1314.6 L1046.0,1314.6 L1047.2,1314.2 L1048.3,1314.7 L1049.5,1314.1 L1050.6,1314.4 L1051.8,1314.7 L1052.9,1314.2 L1054.1,1314.2 L1055.2,1314.6 L1056.4,1314.2 L1057.5,1314.2 L1058.7,1314.3 L1059.8,1314.5 L1061.0,1313.6 L1062.1,1313.9 L1063.3,1313.8 L1064.4,1313.8 L1065.6,1313.8 L1066.7,1313.8 L1067.9,1314.0 L1069.0,1313.7 L1070.2,1313.9 L1071.3,1314.0 L1072.5,1313.6 L1073.6,1313.8 L1074.8,1314.2 L1075.9,1313.8 L1077.1,1313.5 L1078.2,1313.7 L1079.4,1313.4 L1080.5,1313.7 L1081.7,1313.8 L1082.8,1313.3 L1084.0,1313.5 L1085.1,1313.8 L1086.3,1313.3 L1087.4,1313.5 L1088.6,1313.1 L1089.7,1313.1 L1090.9,1313.2 L1092.0,1313.8 L1093.2,1313.1 L1094.3,1313.1 L1095.5,1313.0 L1096.6,1313.1 L1097.8,1313.3 L1098.9,1313.1 L1100.1,1313.6 L1101.2,1313.1 L1102.4,1313.3 L1103.5,1313.0 L1104.7,1313.1 L1105.8,1312.5 L1107.0,1312.8 L1108.1,1312.8 L1109.3,1312.7 L1110.4,1312.2 L1111.6,1312.9 L1112.7,1312.6 L1113.9,1312.5 L1115.0,1312.5 L1116.2,1312.5 L1117.3,1312.6 L1118.5,1312.2 L1119.6,1312.2 L1120.8,1312.5 L1121.9,1312.4 L1123.1,1312.2 L1124.2,1312.2 L1125.4,1312.1 L1126.5,1312.2 L1127.7,1312.5 L1128.8,1311.9 L1130.0,1312.5 L1131.1,1312.3 L1132.3,1311.9 L1133.4,1312.2 L1134.6,1311.6 L1135.7,1311.5 L1136.9,1311.6 L1138.0,1311.8 L1139.2,1311.7 L1140.3,1311.7 L1141.5,1311.8 L1142.6,1311.2 L1143.8,1311.8 L1144.9,1311.3 L1146.1,1311.4 L1147.2,1311.5 L1148.4,1311.2 L1149.5,1311.1 L1150.7,1311.2 L1151.8,1311.4 L1153.0,1311.5 L1154.1,1311.5 L1155.3,1311.0 L1156.4,1311.1 L1157.6,1311.0 L1158.7,1311.3 L1159.9,1310.6 L1161.0,1311.4 L1162.2,1310.9 L1163.3,1310.8 L1164.5,1311.1 L1165.6,1311.2 L1166.8,1311.0 L1167.9,1311.1 L1169.1,1310.9 L1170.2,1311.1 L1171.4,1311.1 L1172.5,1310.7 L1173.7,1311.0 L1174.8,1310.7 L1176.0,1310.6 L1177.1,1310.3 L1178.3,1310.4 L1179.4,1310.7 L1180.6,1310.1 L1181.7,1310.6 L1182.9,1310.4 L1184.0,1310.4 L1185.2,1309.7 L1186.3,1310.2 L1187.5,1310.3 L1188.6,1310.0 L1189.8,1310.1 L1190.9,1309.5 L1192.1,1310.2 L1193.2,1309.8 L1194.4,1310.2 L1195.5,1309.4 L1196.7,1310.0 L1197.8,1309.8 L1199.0,1310.0 L1200.1,1309.5 L1201.3,1309.5 L1202.4,1310.2 L1203.6,1309.4 L1204.7,1309.4 L1205.9,1309.4 L1207.0,1309.2 L1208.2,1309.7 L1209.3,1309.8 L1210.5,1309.2 L1211.6,1308.9 L1212.8,1309.5 L1213.9,1309.5 L1215.1,1309.4 L1216.2,1309.4 L1217.4,1308.9 L1218.5,1309.0 L1219.7,1308.6 L1220.8,1308.6 L1222.0,1309.1 L1223.1,1308.7 L1224.3,1309.4 L1225.4,1308.7 L1226.6,1308.5 L1227.7,1308.8 L1228.9,1309.0 L1230.0,1308.6 L1231.2,1308.2 L1232.3,1308.5 L1233.5,1308.7 L1234.6,1308.2 L1235.8,1308.1 L1236.9,1308.4 L1238.1,1308.2 L1239.2,1307.8 L1240.4,1307.9 L1241.5,1307.7 L1242.7,1307.9 L1243.8,1307.8 L1245.0,1308.0 L1246.1,1307.8 L1247.3,1307.2 L1248.4,1307.6 L1249.6,1307.6 L1250.7,1307.4 L1251.9,1307.4 L1253.0,1306.9 L1254.2,1306.7 L1255.3,1307.0 L1256.5,1306.3 L1257.6,1305.9 L1258.8,1306.4 L1259.9,1305.6 L1261.1,1305.2 L1262.2,1304.0 L1263.4,1302.7 L1264.5,1301.0 L1265.7,1299.7 L1266.8,1299.4 L1268.0,1299.5 L1269.1,1301.4 L1270.3,1301.7 L1271.4,1302.1 L1272.6,1302.5 L1273.7,1301.8 L1274.9,1300.7 L1276.0,1300.6 L1277.2,1298.6 L1278.3,1297.1 L1279.5,1294.7 L1280.6,1291.6 L1281.8,1286.3 L1282.9,1279.2 L1284.1,1265.0 L1285.2,1232.4 L1286.4,1145.3 L1287.5,964.3 L1288.7,731.3 L1289.4,660.0 L1289.8,682.3 L1291.0,892.1 L1292.1,1101.7 L1293.3,1213.5 L1294.4,1257.8 L1295.6,1275.6 L1296.7,1283.9 L1297.9,1289.8 L1299.0,1293.5 L1300.2,1295.7 L1301.3,1297.6 L1302.5,1299.2 L1303.6,1300.2 L1304.8,1300.8 L1305.9,1301.9 L1307.1,1301.8 L1308.2,1302.7 L1309.4,1303.0 L1310.5,1303.4 L1311.7,1303.8 L1312.8,1303.6 L1314.0,1304.2 L1315.1,1304.2 L1316.3,1304.2 L1317.4,1304.1 L1318.6,1304.2 L1319.7,1304.7 L1320.9,1304.4 L1322.0,1304.7 L1323.2,1305.0 L1324.3,1305.0 L1325.5,1305.2 L1326.6,1304.8 L1327.8,1304.6 L1328.9,1305.1 L1330.1,1305.0 L1331.2,1305.2 L1332.4,1304.9 L1333.5,1305.2 L1334.7,1305.1 L1335.8,1305.0 L1337.0,1305.0 L1338.1,1304.9 L1339.3,1304.9 L1340.4,1304.9 L1341.6,1305.0 L1342.7,1304.6 L1343.9,1305.2 L1345.0,1304.7 L1346.2,1304.9 L1347.3,1304.6 L1348.5,1304.6 L1349.6,1305.1 L1350.8,1304.5 L1351.9,1304.2 L1353.1,1304.4 L1354.2,1304.4 L1355.4,1305.0 L1356.5,1304.5 L1357.7,1304.6 L1358.8,1304.1 L1360.0,1304.4 L1361.1,1304.5 L1362.3,1304.7 L1363.4,1304.1 L1364.6,1304.4 L1365.7,1304.2 L1366.9,1303.9 L1368.0,1304.1 L1369.2,1304.0 L1370.3,1303.4 L1371.5,1304.1 L1372.6,1304.1 L1373.8,1303.8 L1374.9,1303.5 L1376.1,1304.2 L1377.2,1303.8 L1378.4,1304.0 L1379.5,1304.0 L1380.7,1303.5 L1381.8,1303.8 L1383.0,1303.5 L1384.1,1303.5 L1385.3,1303.5 L1386.4,1303.4 L1387.6,1303.7 L1388.7,1303.4 L1389.9,1303.3 L1391.0,1303.2 L1392.2,1303.3 L1393.3,1303.0 L1394.5,1303.0 L1395.6,1303.1 L1396.8,1302.9 L1397.9,1303.0 L1399.1,1302.8 L1400.2,1303.4 L1401.4,1303.2 L1402.5,1302.9 L1403.7,1302.7 L1404.8,1303.3 L1406.0,1302.7 L1407.1,1302.6 L1408.3,1302.6 L1409.4,1302.6 L1410.6,1302.8 L1411.7,1302.4 L1412.9,1302.9 L1414.0,1302.1 L1415.2,1302.4 L1416.3,1302.0 L1417.5,1302.6 L1418.6,1302.0 L1419.8,1302.0 L1420.9,1302.2 L1422.1,1302.3 L1423.2,1301.6 L1424.4,1301.8 L1425.5,1301.4 L1426.7,1301.8 L1427.8,1301.7 L1429.0,1301.5 L1430.1,1301.4 L1431.3,1301.4 L1432.4,1301.3 L1433.6,1301.5 L1434.7,1301.7 L1435.9,1300.8 L1437.0,1301.2 L1438.2,1301.1 L1439.3,1301.2 L1440.5,1300.8 L1441.6,1301.0 L1442.8,1300.7 L1443.9,1301.1 L1445.1,1300.9 L1446.2,1300.7 L1447.4,1300.8 L1448.5,1300.6 L1449.7,1300.2 L1450.8,1300.7 L1452.0,1300.6 L1453.1,1300.4 L1454.3,1300.6 L1455.4,1300.6 L1456.6,1300.0 L1457.7,1300.0 L1458.9,1300.5 L1460.0,1300.4 L1461.2,1299.8 L1462.3,1299.6 L1463.5,1299.7 L1464.6,1299.7 L1465.8,1299.4 L1466.9,1299.7 L1468.1,1299.3 L1469.2,1299.3 L1470.4,1299.7 L1471.5,1299.3 L1472.7,1299.3 L1473.8,1299.5 L1475.0,1299.4 L1476.1,1299.1 L1477.3,1299.1 L1478.4,1298.8 L1479.6,1299.4 L1480.7,1299.1 L1481.9,1298.6 L1483.0,1298.8 L1484.2,1298.9 L1485.3,1298.8 L1486.5,1299.0 L1487.6,1298.9 L1488.8,1298.3 L1489.9,1298.4 L1491.1,1298.0 L1492.2,1298.3 L1493.4,1298.2 L1494.5,1298.8 L1495.7,1298.1 L1496.8,1297.4 L1498.0,1297.7 L1499.1,1297.9 L1500.3,1297.4 L1501.4,1297.5 L1502.6,1297.5 L1503.7,1297.6 L1504.9,1297.4 L1506.0,1297.2 L1507.2,1297.5 L1508.3,1297.1 L1509.5,1297.1 L1510.6,1296.8 L1511.8,1296.9 L1512.9,1297.1 L1514.1,1296.5 L1515.2,1296.8 L1516.4,1296.9 L1517.5,1296.6 L1518.7,1296.7 L1519.8,1296.3 L1521.0,1296.8 L1522.1,1296.7 L1523.3,1296.4 L1524.4,1295.8 L1525.6,1295.9 L1526.7,1296.4 L1527.9,1296.5 L1529.0,1296.0 L1530.2,1296.2 L1531.3,1295.7 L1532.5,1295.7 L1533.6,1295.7 L1534.8,1295.7 L1535.9,1295.1 L1537.1,1295.7 L1538.2,1295.7 L1539.4,1295.0 L1540.5,1294.9 L1541.7,1295.2 L1542.8,1294.9 L1544.0,1294.4 L1545.1,1295.1 L1546.3,1294.9 L1547.4,1294.6 L1548.6,1295.2 L1549.7,1294.6 L1550.9,1294.3 L1552.0,1294.5 L1553.2,1294.1 L1554.3,1294.1 L1555.5,1294.3 L1556.6,1294.0 L1557.8,1293.9 L1558.9,1294.4 L1560.1,1294.1 L1561.2,1294.0 L1562.4,1293.9 L1563.5,1293.8 L1564.7,1293.9 L1565.8,1293.5 L1567.0,1293.9 L1568.1,1293.1 L1569.3,1293.2 L1570.4,1292.8 L1571.6,1293.0 L1572.7,1293.1 L1573.9,1293.3 L1575.0,1292.7 L1576.2,1292.8 L1577.3,1292.6 L1578.5,1292.4 L1579.6,1292.2 L1580.8,1292.4 L1581.9,1291.9 L1583.1,1292.3 L1584.2,1292.2 L1585.4,1291.9 L1586.5,1291.8 L1587.7,1291.6 L1588.8,1292.3 L1590.0,1291.4 L1591.1,1292.1 L1592.3,1291.8 L1593.4,1291.4 L1594.6,1291.2 L1595.7,1291.6 L1596.9,1291.7 L1598.0,1291.0 L1599.2,1291.0 L1600.3,1291.3 L1601.5,1291.0 L1602.6,1291.4 L1603.8,1290.6 L1604.9,1290.8 L1606.1,1290.3 L1607.2,1291.0 L1608.4,1290.2 L1609.5,1289.8 L1610.7,1290.2 L1611.8,1290.1 L1613.0,1290.6 L1614.1,1289.9 L1615.3,1289.9 L1616.4,1290.0 L1617.6,1290.1 L1618.7,1289.6 L1619.9,1289.8 L1621.0,1289.6 L1622.2,1289.3 L1623.3,1289.3 L1624.5,1289.2 L1625.6,1288.9 L1626.8,1289.4 L1627.9,1288.6 L1629.1,1289.2 L1630.2,1289.0 L1631.4,1288.7 L1632.5,1288.4 L1633.7,1288.5 L1634.8,1288.6 L1636.0,1288.5 L1637.1,1288.3 L1638.3,1288.4 L1639.4,1287.9 L1640.6,1288.0 L1641.7,1287.5 L1642.9,1288.0 L1644.0,1287.8 L1645.2,1287.5 L1646.3,1287.8 L1647.5,1287.6 L1648.6,1286.7 L1649.8,1287.3 L1650.9,1286.8 L1652.1,1287.4 L1653.2,1287.6 L1654.4,1286.8 L1655.5,1286.8 L1656.7,1286.7 L1657.8,1286.7 L1659.0,1286.7 L1660.1,1286.8 L1661.3,1286.1 L1662.4,1286.6 L1663.6,1285.9 L1664.7,1286.1 L1665.9,1286.2 L1667.0,1286.0 L1668.2,1285.5 L1669.3,1285.5 L1670.5,1285.4 L1671.6,1285.4 L1672.8,1285.6 L1673.9,1284.9 L1675.1,1285.2 L1676.2,1285.1 L1677.4,1285.0 L1678.5,1284.8 L1679.7,1284.9 L1680.8,1284.5 L1682.0,1284.4 L1683.1,1284.1 L1684.3,1284.1 L1685.4,1282.8 L1686.6,1283.0 L1687.7,1281.7 L1688.9,1280.4 L1690.0,1278.4 L1691.2,1275.9 L1692.3,1273.9 L1693.5,1272.1 L1694.6,1272.4 L1695.8,1273.4 L1696.9,1276.4 L1698.1,1278.1 L1699.2,1279.6 L1700.4,1280.6 L1701.5,1281.3 L1702.7,1281.6 L1703.8,1282.0 L1705.0,1282.2 L1706.1,1282.2 L1707.3,1281.9 L1708.4,1282.2 L1709.6,1282.0 L1710.7,1282.2 L1711.9,1282.6 L1713.0,1282.2 L1714.2,1281.9 L1715.3,1281.5 L1716.5,1281.5 L1717.6,1281.4 L1718.8,1281.9 L1719.9,1281.5 L1721.1,1281.6 L1722.2,1281.3 L1723.4,1281.4 L1724.5,1281.7 L1725.7,1281.1 L1726.8,1281.1 L1728.0,1280.9 L1729.1,1281.2 L1730.3,1280.6 L1731.4,1280.5 L1732.6,1280.4 L1733.7,1280.3 L1734.9,1280.7 L1736.0,1281.1 L1737.2,1280.1 L1738.3,1280.5 L1739.5,1280.2 L1740.6,1279.8 L1741.8,1279.9 L1742.9,1279.8 L1744.1,1279.6 L1745.2,1280.2 L1746.4,1279.2 L1747.5,1279.6 L1748.7,1279.5 L1749.8,1279.2 L1751.0,1279.3 L1752.1,1279.4 L1753.3,1279.1 L1754.4,1279.1 L1755.6,1279.1 L1756.7,1278.3 L1757.9,1279.1 L1759.0,1279.2 L1760.2,1278.8 L1761.3,1278.7 L1762.5,1278.0 L1763.6,1278.2 L1764.8,1278.0 L1765.9,1277.9 L1767.1,1278.2 L1768.2,1277.7 L1769.4,1277.8 L1770.5,1277.2 L1771.7,1277.6 L1772.8,1277.5 L1774.0,1277.3 L1775.1,1277.2 L1776.3,1277.7 L1777.4,1276.9 L1778.6,1276.8 L1779.7,1276.8 L1780.9,1277.2 L1782.0,1277.3 L1783.2,1276.8 L1784.3,1276.4 L1785.5,1276.4 L1786.6,1276.7 L1787.8,1276.1 L1788.9,1276.6 L1790.1,1276.5 L1791.2,1276.1 L1792.4,1276.1 L1793.5,1276.1" fill="none" stroke="#EE0000" stroke-width="7" stroke-linejoin="round" stroke-linecap="round"/>
</svg></body></html>
